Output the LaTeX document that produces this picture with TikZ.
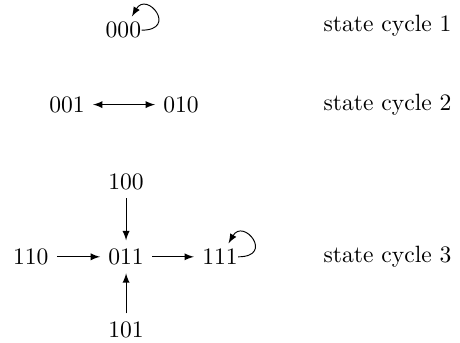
\documentclass[tikz,border=0pt]{standalone}
\usepackage{tikz}

\begin{document}
\begin{tikzpicture}[node distance=1.1cm, auto, >=latex]
        % Styles
        \tikzset{state/.style={inner sep=0.333em}}
        \tikzset{cyclelabel/.style={inner sep=0.333em}}
        \tikzset{selfloop/.style={->}}

        \useasboundingbox (0,0) rectangle (6.86,-5.11);

        % Cycle 1
        \node[state] (s000) at (1.84,-0.45) {000};

        % Cycle 2
        \node[state] (s001) at (1.0,-1.56) {001};
        \node[state, right of=s001, node distance=1.70cm] (s010) {010};

        % Cycle 3
        \node[state] (s011) at (1.88,-3.83) {011};
        \node[state, above of=s011, node distance=1.12cm] (s100) {100};
        \node[state, below of=s011, node distance=1.09cm] (s101) {101};
        \node[state, left of=s011, node distance=1.42cm] (s110) {110};
        \node[state, right of=s011, node distance=1.40cm] (s111) {111};

        % Labels
        \node[cyclelabel] (c1) at (5.78,-0.39) {state cycle 1};
        \node[cyclelabel] (c2) at (5.78,-1.56) {state cycle 2};
        \node[cyclelabel] (c3) at (5.78,-3.83) {state cycle 3};

        % Connections
        \draw[selfloop] ([xshift=-0.333em]s000.east) .. controls +(0:0.55) and +(60:0.45) .. ([xshift=-2.6mm, yshift=-0.4mm]s000.north east);
        \draw[<->] (s001) -- (s010);
        \draw[->] (s100) -- (s011);
        \draw[->] (s101) -- (s011);
        \draw[->] (s110) -- (s011);
        \draw[->] (s011) -- (s111);
        \draw[selfloop] ([xshift=-0.333em]s111.east) .. controls +(0:0.55) and +(60:0.45) .. ([xshift=-2.6mm, yshift=-0.4mm]s111.north east);
    \end{tikzpicture}
\end{document}
